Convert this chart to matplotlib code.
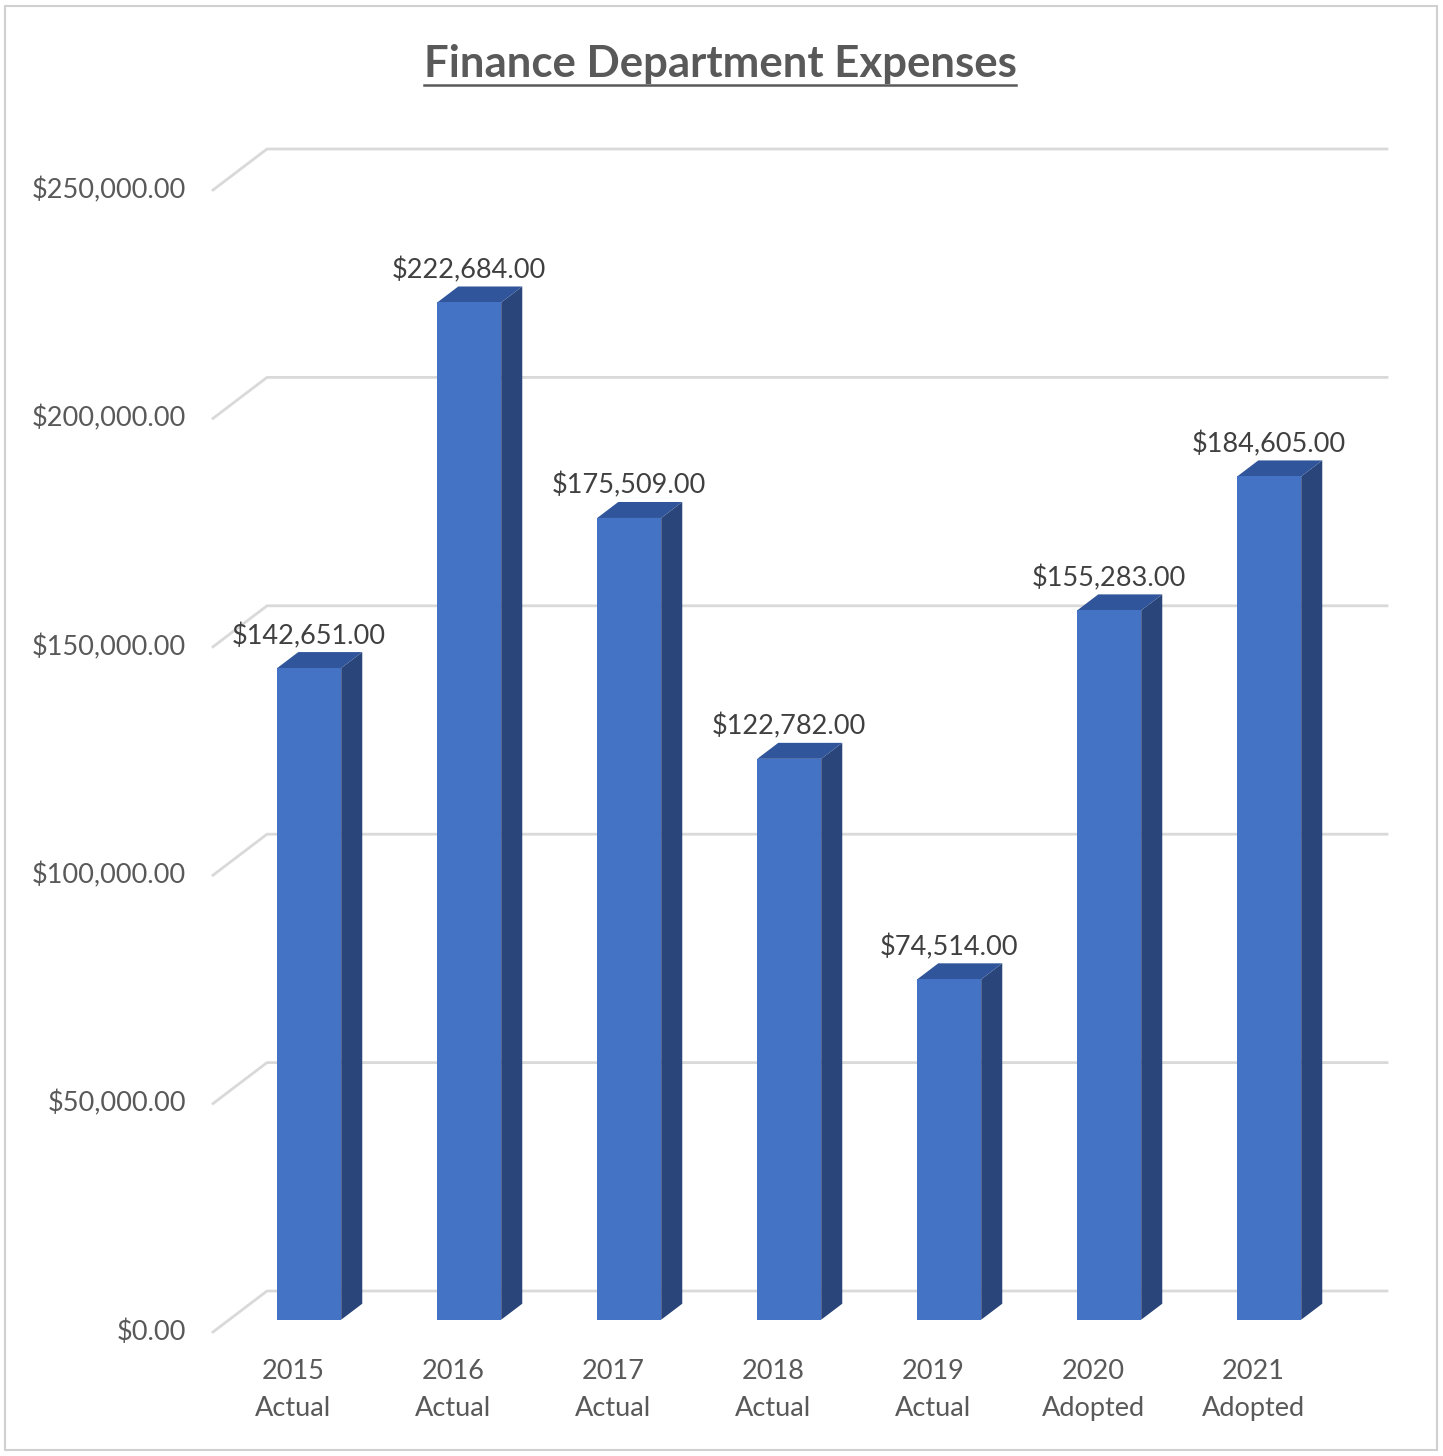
import matplotlib
matplotlib.use("Agg")
import matplotlib.pyplot as plt
from matplotlib.patches import Polygon, Rectangle
from matplotlib.lines import Line2D

plt.rcParams['font.family'] = ['Lato', 'DejaVu Sans']

years = ['2015', '2016', '2017', '2018', '2019', '2020', '2021']
kinds = ['Actual', 'Actual', 'Actual', 'Actual', 'Actual', 'Adopted', 'Adopted']
expenses = [142651, 222684, 175509, 122782, 74514, 155283, 184605]
y_ticks = [0, 50000, 100000, 150000, 200000, 250000]

W, H = 1443, 1456
x0_px, unit_px = 213, 160          # front plane: category 0 starts at x0_px
y0_px, per_dollar = 1332, 0.004568  # front plane: $0 at y0_px
depth_x = 54 / unit_px
depth_y = 41 / per_dollar

front_c = '#4472C4'
top_c = '#30559a'
side_c = '#29457a'
grid_c = '#d9d9d9'
text_c = '#595959'
fs = 19.5

fig = plt.figure(figsize=(W / 100, H / 100), dpi=100)
ax = fig.add_axes([0, 0, 1, 1])
ax.set_xlim(-x0_px / unit_px, (W - x0_px) / unit_px)
ax.set_ylim(-(H - y0_px) / per_dollar, y0_px / per_dollar)
ax.axis('off')

n = len(years)
# gridlines: side wall diagonal + back wall
for v in y_ticks:
    ax.add_line(Line2D([0, depth_x, n + depth_x], [v, v + depth_y, v + depth_y],
                       color=grid_c, lw=2, zorder=1))
    ax.text((186 - x0_px) / unit_px, v, f'${v:,.2f}', ha='right', va='center',
            fontsize=fs, color=text_c)

# 3D-ish columns
bar_w = 0.4
f0, f1 = 0.3, 0.69   # bar front / back position inside the depth
for i, val in enumerate(expenses):
    bx = i + 0.5 - bar_w / 2 + f0 * depth_x
    by = f0 * depth_y
    dx = (f1 - f0) * depth_x
    dy = (f1 - f0) * depth_y
    top = by + val
    ax.add_patch(Polygon([(bx + bar_w, by), (bx + bar_w + dx, by + dy),
                          (bx + bar_w + dx, top + dy), (bx + bar_w, top)],
                         closed=True, fc=side_c, ec='none', zorder=3))
    ax.add_patch(Polygon([(bx, top), (bx + bar_w, top), (bx + bar_w + dx, top + dy),
                          (bx + dx, top + dy)], closed=True, fc=top_c, ec='none', zorder=3))
    ax.add_patch(Rectangle((bx, by), bar_w, val, fc=front_c, ec='none', zorder=4))
    ax.text(bx + bar_w / 2, top + dy + 700, f'${val:,.2f}',
            ha='center', va='bottom', fontsize=fs, color='#404040', zorder=5)
    ax.text(i + 0.5, -(1359 - y0_px) / per_dollar, f'{years[i]}\n{kinds[i]}',
            ha='center', va='top', fontsize=fs, color=text_c, linespacing=1.62)

title = fig.text(720 / W, 1 - 64 / H, 'Finance Department Expenses', ha='center',
                 va='center', fontsize=31.5, fontweight='bold', color=text_c)

# outer chart border
fig.patches.append(Rectangle((5 / W, 6 / H), 1432 / W, 1444 / H, transform=fig.transFigure,
                             fill=False, ec='#d0d0d0', lw=1.5))

# underline the title
fig.canvas.draw()
bb = title.get_window_extent().transformed(fig.transFigure.inverted())
fig.add_artist(Line2D([bb.x0, bb.x1], [1 - 85 / H] * 2, transform=fig.transFigure,
                      color=text_c, lw=1.8))

fig.savefig('out.png', dpi=100, facecolor='white')
